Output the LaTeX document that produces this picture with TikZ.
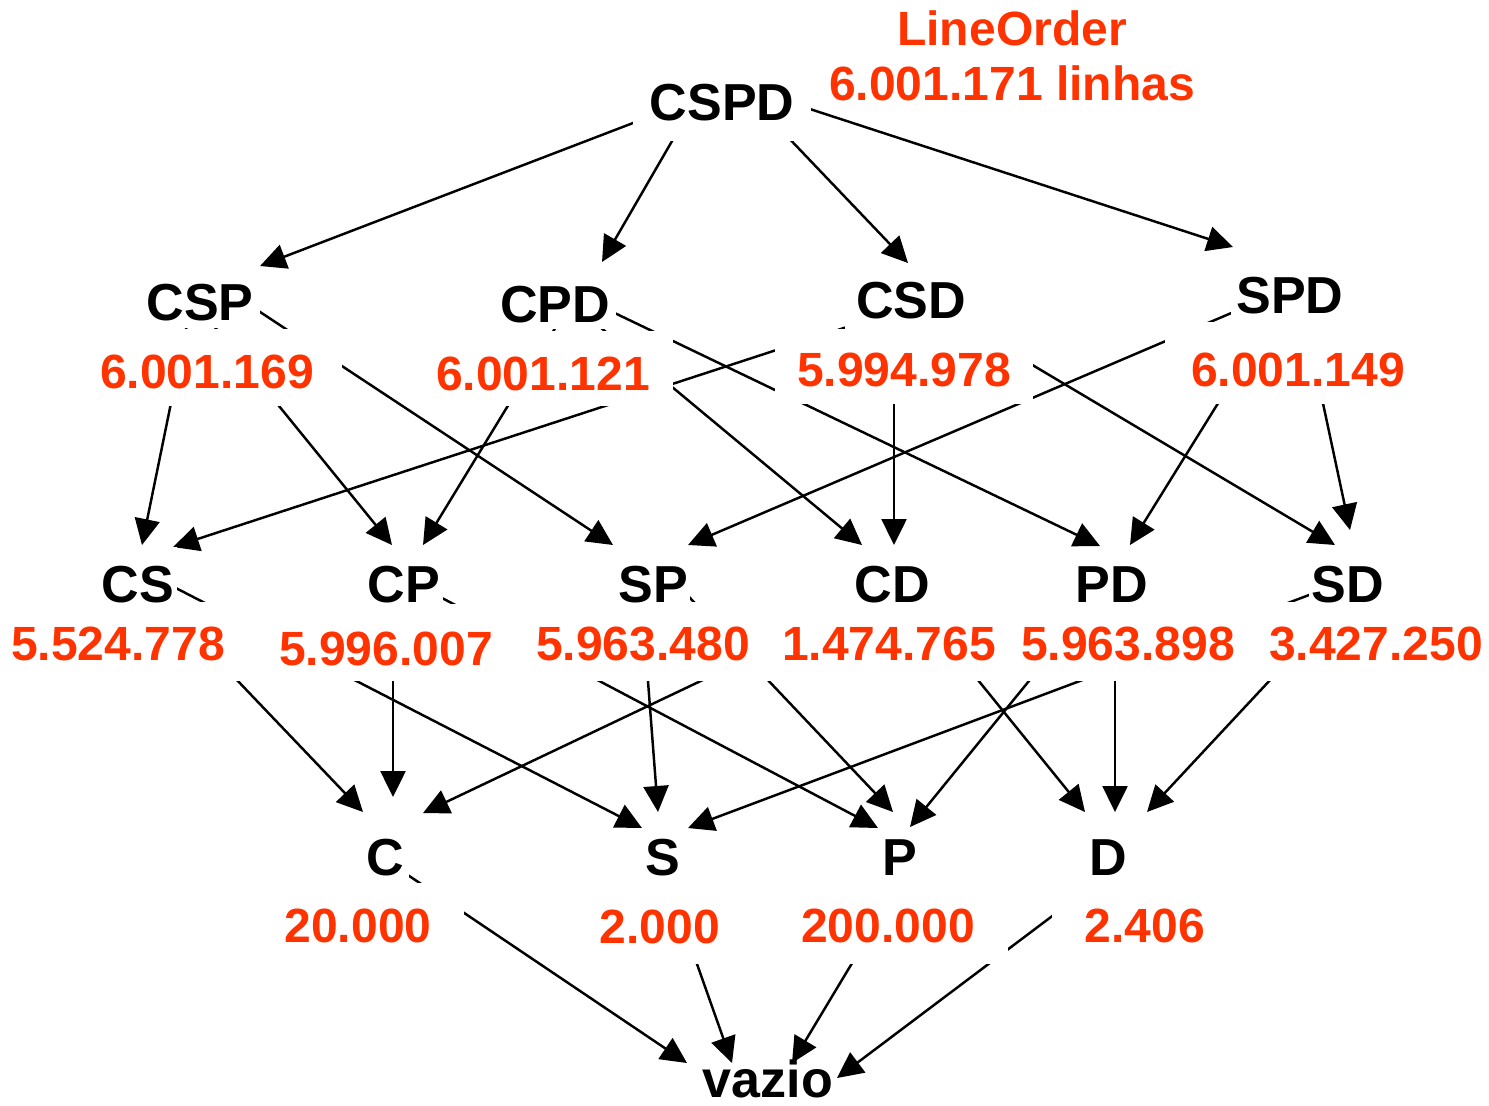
\documentclass[tikz,border=0pt]{standalone}
\usepackage{fontspec}
\setmainfont{Liberation Sans}
\usetikzlibrary{arrows.meta,calc}
\definecolor{numred}{RGB}{255,51,0}
\pgfdeclarelayer{edges}
\pgfdeclarelayer{mask}
\pgfsetlayers{edges,mask,main}
% connector: source node, offset from its baseline, target node, offset of the tip
\newcommand\lnk[4]{\draw[arr] ($(#1.base)+(#2)$) -- ($(#3.base)+(#4)$);}

\begin{document}
\begin{tikzpicture}[x=0.01cm,y=-0.01cm,
  lbl/.style={font=\bfseries\fontsize{14.8pt}{16pt}\selectfont, text=black,
              inner ysep=0pt, inner xsep=0.05cm, anchor=base},
  num/.style={font=\bfseries\fontsize{13.66pt}{15pt}\selectfont, text=numred,
              inner ysep=0pt, inner xsep=0.3cm, anchor=base},
  arr/.style={-{Triangle[length=0.26cm,width=0.25cm]}, line width=0.7pt, black},
  lvtwo/.style={lbl, text height=0.54cm, text depth=0.01cm, inner xsep=0.02cm},
  nvtwo/.style={num, text height=0.57cm, text depth=0.20cm, inner xsep=0.30cm},
  lvthree/.style={lbl, text height=0.45cm, text depth=0.09cm, inner xsep=0.04cm},
  nvthree/.style={num, text height=0.58cm, text depth=0.21cm, inner xsep=0.32cm},
]
\useasboundingbox (0,0) rectangle (1489,1105);

% top
\node[lbl, text height=0.50cm, text depth=0.20cm, inner xsep=0.16cm] (CSPD) at (722,120) {CSPD};
\node[num, inner xsep=0pt] (LO) at (1012,45) {LineOrder};
\node[num, inner xsep=0pt] (LOrows) at (1012,100) {6.001.171 linhas};

% three attributes
\node[lbl, text height=0.52cm, text depth=0.07cm, inner xsep=0.06cm] (CSP) at (200,320) {CSP};
\node[lbl, text height=0.52cm, text depth=0.06cm] (CPD) at (555,322) {CPD};
\node[lbl, text height=0.52cm, text depth=0.12cm, inner xsep=0.1cm] (CSD) at (911,318) {CSD};
\node[lbl, text height=0.52cm, text depth=0.10cm] (SPD) at (1290,313) {SPD};
\node[num, text height=0.58cm, text depth=0.17cm, inner xsep=0.27cm] (nCSP) at (207,388) {6.001.169};
\node[num, text height=0.58cm, text depth=0.15cm, inner xsep=0.22cm] (nCPD) at (543,390) {6.001.121};
\node[num, text height=0.56cm, text depth=0.17cm, inner xsep=0.21cm] (nCSD) at (904,386) {5.994.978};
\node[num, text height=0.63cm, text depth=0.17cm, inner xsep=0.25cm] (nSPD) at (1298,386) {6.001.149};

% two attributes
\node[lvtwo] (CS) at (138,602) {CS};
\node[lvtwo, text depth=0.03cm] (CP) at (404,602) {CP};
\node[lvtwo] (SP) at (653,602) {SP};
\node[lvtwo] (CD) at (892,602) {CD};
\node[lvtwo] (PD) at (1112,602) {PD};
\node[lvtwo] (SD) at (1348,602) {SD};
\node[nvtwo] (nCS) at (118,660) {5.524.778};
\node[nvtwo, text height=0.60cm, text depth=0.15cm] (nCP) at (386,665) {5.996.007};
\node[nvtwo] (nSP) at (643,660) {5.963.480};
\node[nvtwo] (nCD) at (889,660) {1.474.765};
\node[nvtwo] (nPD) at (1128,660) {5.963.898};
\node[nvtwo] (nSD) at (1376,660) {3.427.250};

% one attribute
\node[lvthree] (C) at (385,875) {C};
\node[lvthree] (S) at (663,875) {S};
\node[lvthree] (P) at (900,875) {P};
\node[lvthree] (D) at (1108,875) {D};
\node[nvthree] (nC) at (358,942) {20.000};
\node[nvthree, text height=0.59cm, text depth=0.20cm] (nS) at (660,943) {2.000};
\node[nvthree] (nP) at (888,942) {200.000};
\node[nvthree] (nD) at (1145,942) {2.406};

% empty set
\node[lbl] (vazio) at (768,1097) {vazio};

% white boxes behind the texts hide the connectors where they pass
\begin{pgfonlayer}{mask}
  \foreach \n in {CSPD,CSP,CPD,CSD,SPD,nCSP,nCPD,nCSD,nSPD,
                  CS,CP,SP,CD,PD,SD,nCS,nCP,nSP,nCD,nPD,nSD,
                  C,S,P,D,nC,nS,nP,nD}
    \fill[white] (\n.south west) rectangle (\n.north east);
\end{pgfonlayer}

\begin{pgfonlayer}{edges}
  \fill[white] (0,0) rectangle (1489,1105);
  % CSPD -> three attributes
  \lnk{CSPD}{-42,-15}{CSP}{60,-54}
  \lnk{CSPD}{-32,-10}{CPD}{47,-60}
  \lnk{CSPD}{40,-10}{CSD}{-3,-55}
  \lnk{CSPD}{48,-24}{SPD}{-57,-66}
  % three -> two attributes
  \lnk{CSP}{-10,-10}{CS}{4,-57}
  \lnk{CSP}{1,-10}{CP}{-12,-57}
  \lnk{CSP}{45,-18}{SP}{-40,-57}
  \lnk{CPD}{10,-10}{CP}{19,-57}
  \lnk{CPD}{27,-10}{CD}{-30,-57}
  \lnk{CPD}{43,-17}{PD}{-12,-56}
  \lnk{CSD}{-6,-10}{CS}{35,-55}
  \lnk{CSD}{-17,-8}{CD}{2,-57}
  \lnk{CSD}{29,-8}{SD}{-13,-57}
  \lnk{SPD}{-40,-8}{SP}{35,-57}
  \lnk{SPD}{-11,-8}{PD}{18,-57}
  \lnk{SPD}{12,-8}{SD}{2,-72}
  % two -> one attribute
  \lnk{CS}{13,-12}{C}{-22,-63}
  \lnk{CS}{32,-17}{S}{-21,-47}
  \lnk{CP}{-11,-12}{C}{8,-78}
  \lnk{CP}{21,-13}{P}{-22,-47}
  \lnk{SP}{-12,-12}{S}{-5,-63}
  \lnk{SP}{20,-22}{P}{-7,-63}
  \lnk{CD}{0,-12}{C}{38,-62}
  \lnk{CD}{13,-12}{D}{-23,-63}
  \lnk{PD}{-9,-12}{P}{10,-48}
  \lnk{PD}{3,-12}{D}{7,-63}
  \lnk{SD}{-23,-13}{S}{25,-47}
  \lnk{SD}{6,-12}{D}{39,-63}
  % one attribute -> empty set
  \lnk{C}{5,-12}{vazio}{-81,-34}
  \lnk{S}{-1,-10}{vazio}{-36,-34}
  \lnk{P}{11,-10}{vazio}{24,-34}
  \lnk{D}{12,-10}{vazio}{69,-19}
\end{pgfonlayer}
\end{tikzpicture}
\end{document}
